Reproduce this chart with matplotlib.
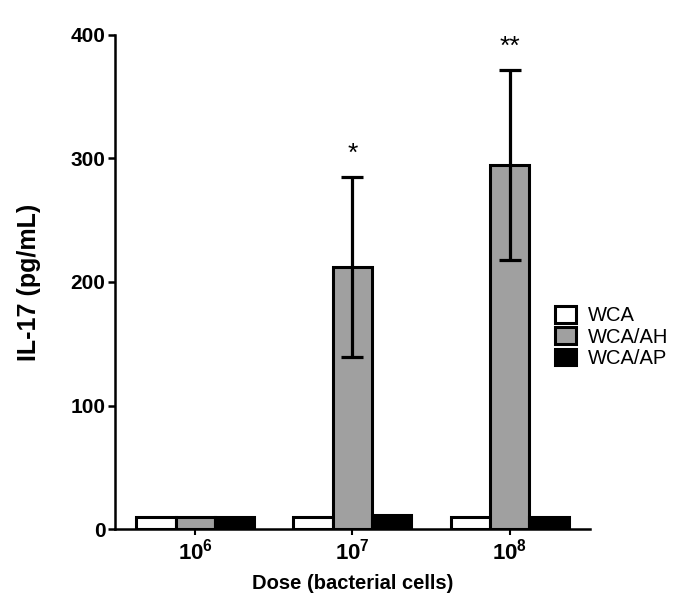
import numpy as np
import matplotlib.pyplot as plt

plt.rcParams['font.family'] = ['Liberation Sans', 'DejaVu Sans']
plt.rcParams['mathtext.fontset'] = 'custom'
plt.rcParams['mathtext.rm'] = 'Liberation Sans:bold'
plt.rcParams['mathtext.bf'] = 'Liberation Sans:bold'

# 데이터
doses = ['$\\mathbf{10^6}$', '$\\mathbf{10^7}$', '$\\mathbf{10^8}$']
groups = ['WCA', 'WCA/AH', 'WCA/AP']
wca = [10, 10, 10]
wca_ah = [10, 212, 295]
wca_ap = [10, 11.5, 10]
wca_ah_err = [0, 73, 77]
stars = ['', '*', '**']
star_y = [0, 294, 381]

colors = ['white', '#a0a0a0', 'black']

fig = plt.figure(figsize=(6.85, 6.05), dpi=100)
ax = fig.add_axes([0.168, 0.1256, 0.693, 0.8166])

x = np.arange(len(doses))
w = 0.25
series = [wca, wca_ah, wca_ap]
bars = []
for i, vals in enumerate(series):
    b = ax.bar(x + (i - 1) * w, vals, w, color=colors[i], edgecolor='black',
               linewidth=2.2, label=groups[i], zorder=2)
    bars.append(b)

# 에러바 (WCA/AH 만)
ax.errorbar(x[1:], wca_ah[1:], yerr=wca_ah_err[1:], fmt='none', ecolor='black',
            elinewidth=2.3, capsize=8, capthick=2.3, zorder=3)

for xi, s, sy in zip(x, stars, star_y):
    if s:
        ax.text(xi, sy, s, ha='center', va='bottom', fontsize=19)

ax.set_xlim(-0.51, 2.51)
ax.set_ylim(0, 400)
ax.set_yticks([0, 100, 200, 300, 400])
ax.set_xticks(x)
ax.set_xticklabels(doses)
for lab in ax.get_yticklabels():
    lab.set_fontweight('bold')
    lab.set_fontsize(15)
for lab in ax.get_xticklabels():
    lab.set_fontsize(16)

ax.spines['top'].set_visible(False)
ax.spines['right'].set_visible(False)
ax.spines['left'].set_linewidth(1.8)
ax.spines['bottom'].set_linewidth(1.8)
ax.tick_params(axis='y', width=1.8, length=5, pad=2)
ax.tick_params(axis='x', width=1.5, length=4, pad=3)

ax.set_ylabel('IL-17 (pg/mL)', fontsize=18, fontweight='bold', labelpad=21)
ax.set_xlabel('Dose (bacterial cells)', fontsize=14.5, fontweight='bold', labelpad=7)

leg = fig.legend(handles=bars, labels=groups, loc='center left',
                 bbox_to_anchor=(0.799, 0.443), frameon=False, fontsize=14.5,
                 handlelength=1.0, handleheight=0.9, handletextpad=0.6,
                 labelspacing=0.1, borderaxespad=0)

fig.savefig('out.png', dpi=100)
